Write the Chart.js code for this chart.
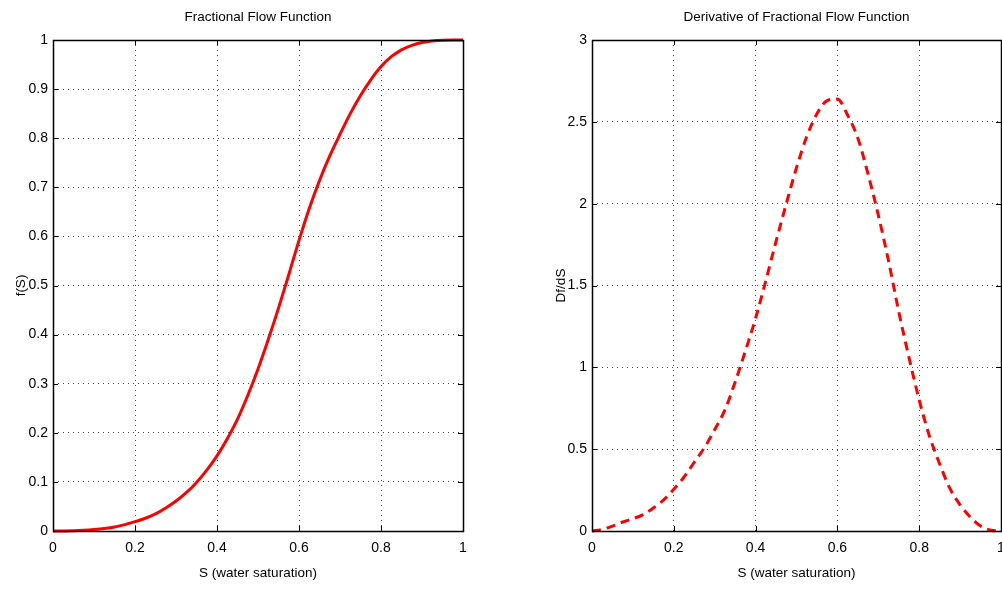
<!DOCTYPE html>
<html>
<head>
<meta charset="utf-8">
<script src="https://cdn.jsdelivr.net/npm/chart.js@4/dist/chart.umd.min.js"></script>
<style>
  html, body { margin: 0; padding: 0; background: #fff; width: 1002px; height: 589px; overflow: hidden; position: relative; }
  canvas { position: absolute; top: 0; }
  #c1 { left: 0px; }
  #c2 { left: 540px; }
</style>
</head>
<body>
<canvas id="c1" width="516" height="589"></canvas>
<canvas id="c2" width="513" height="589"></canvas>
<script>
// ---- data ----
const saturation = [0, 0.025, 0.05, 0.075, 0.1, 0.125, 0.15, 0.175, 0.2, 0.225, 0.25, 0.275, 0.3, 0.325, 0.35, 0.375, 0.4, 0.425, 0.45, 0.475, 0.5, 0.525, 0.55, 0.575, 0.6, 0.625, 0.65, 0.675, 0.7, 0.725, 0.75, 0.775, 0.8, 0.825, 0.85, 0.875, 0.9, 0.925, 0.95, 0.975, 1];
const fractionalFlow = [0, 0.0001, 0.0005, 0.0015, 0.003, 0.005, 0.008, 0.013, 0.019, 0.026, 0.035, 0.047, 0.061, 0.078, 0.099, 0.124, 0.153, 0.188, 0.228, 0.276, 0.33, 0.39, 0.454, 0.522, 0.592, 0.657, 0.714, 0.764, 0.808, 0.85, 0.887, 0.919, 0.946, 0.966, 0.98, 0.989, 0.995, 0.998, 0.9995, 1.0, 1.0];
const derivative = [0, 0.01, 0.03, 0.055, 0.075, 0.10, 0.14, 0.19, 0.255, 0.33, 0.42, 0.51, 0.62, 0.74, 0.91, 1.10, 1.30, 1.53, 1.77, 2.0, 2.22, 2.41, 2.55, 2.63, 2.64, 2.54, 2.40, 2.18, 1.93, 1.65, 1.34, 1.06, 0.80, 0.58, 0.41, 0.26, 0.16, 0.085, 0.03, 0.005, 0];
const xTickValues = [0, 0.2, 0.4, 0.6, 0.8, 1];
const xTickLabels = ['0', '0.2', '0.4', '0.6', '0.8', '1'];
const leftYTickValues = [0, 0.1, 0.2, 0.3, 0.4, 0.5, 0.6, 0.7, 0.8, 0.9, 1];
const leftYTickLabels = ['0', '0.1', '0.2', '0.3', '0.4', '0.5', '0.6', '0.7', '0.8', '0.9', '1'];
const rightYTickValues = [0, 0.5, 1, 1.5, 2, 2.5, 3];
const rightYTickLabels = ['0', '0.5', '1', '1.5', '2', '2.5', '3'];
const titles = ['Fractional Flow Function', 'Derivative of Fractional Flow Function'];
const xAxisTitle = 'S (water saturation)';
const yAxisTitles = ['f(S)', 'Df/dS'];

// ---- styling ----
const FONT = "'Liberation Sans', Arial, Helvetica, sans-serif";

const boxPlugin = {
  id: 'matlabBox',
  afterDraw(chart) {
    const {ctx, chartArea: a, scales} = chart;
    ctx.save();
    ctx.strokeStyle = '#000';
    ctx.lineWidth = 1;
    ctx.beginPath();
    scales.x.ticks.forEach(t => {
      const px = Math.round(scales.x.getPixelForValue(t.value)) + 0.5;
      ctx.moveTo(px, a.bottom); ctx.lineTo(px, a.bottom - 5);
      ctx.moveTo(px, a.top); ctx.lineTo(px, a.top + 5);
    });
    scales.y.ticks.forEach(t => {
      const py = Math.round(scales.y.getPixelForValue(t.value)) + 0.5;
      ctx.moveTo(a.left, py); ctx.lineTo(a.left + 5, py);
      ctx.moveTo(a.right, py); ctx.lineTo(a.right - 5, py);
    });
    ctx.stroke();
    ctx.lineWidth = 1.5;
    ctx.strokeRect(Math.round(a.left) + 0.5, Math.round(a.top) + 0.5, Math.round(a.right - a.left), Math.round(a.bottom - a.top));
    ctx.restore();
  }
};

function makeChart(id, values, yTickValues, yTickLabels, yMax, title, yTitle, dash, padRight, yWidth) {
  const pts = saturation.map((s, i) => ({x: s, y: values[i]}));
  return new Chart(document.getElementById(id), {
    type: 'line',
    data: {
      datasets: [{
        data: pts,
        borderColor: '#ff0000',
        borderWidth: 3,
        borderDash: dash,
        pointRadius: 0,
        cubicInterpolationMode: 'monotone',
        fill: false,
        clip: false
      }]
    },
    options: {
      responsive: false,
      animation: false,
      devicePixelRatio: 1,
      layout: { padding: { left: 0, right: padRight, top: 0, bottom: 0 } },
      plugins: {
        legend: { display: false },
        tooltip: { enabled: false },
        title: {
          display: true,
          fullSize: false,
          text: title,
          color: '#000',
          font: { family: FONT, size: 13.5, weight: 'normal', lineHeight: 1.2 },
          padding: { top: 9.5, bottom: 14.3 }
        }
      },
      scales: {
        x: {
          type: 'linear',
          min: 0, max: 1,
          afterFit(s) { s.height = 58; },
          afterBuildTicks(s) { s.ticks = xTickValues.map(v => ({value: v})); },
          ticks: {
            color: '#000',
            font: { family: FONT, size: 14 },
            padding: 9,
            maxRotation: 0,
            autoSkip: false,
            callback: (v) => { const i = xTickValues.indexOf(v); return i >= 0 ? xTickLabels[i] : ''; }
          },
          grid: {
            drawTicks: false,
            color: (c) => (c.tick && (c.tick.value === 0 || c.tick.value === 1)) ? 'rgba(0,0,0,0)' : '#444',
            lineWidth: 1,
          },
          border: { display: false, dash: [1, 4] },
          title: {
            display: true,
            text: xAxisTitle,
            color: '#000',
            font: { family: FONT, size: 13.5, lineHeight: 1.2 },
            padding: { top: 0, bottom: 8 }
          }
        },
        y: {
          type: 'linear',
          min: 0, max: yMax,
          afterFit(s) { s.width = yWidth; },
          afterBuildTicks(s) { s.ticks = yTickValues.map(v => ({value: v})); },
          ticks: {
            color: '#000',
            font: { family: FONT, size: 14 },
            padding: 5,
            autoSkip: false,
            callback: (v) => { const i = yTickValues.indexOf(v); return i >= 0 ? yTickLabels[i] : ''; }
          },
          grid: {
            drawTicks: false,
            color: (c) => (c.tick && (c.tick.value === 0 || c.tick.value === yMax)) ? 'rgba(0,0,0,0)' : '#444',
            lineWidth: 1,
          },
          border: { display: false, dash: [1, 4] },
          title: {
            display: true,
            text: yTitle,
            color: '#000',
            font: { family: FONT, size: 13.5, lineHeight: 1.2 },
            padding: { top: 13, bottom: 0 }
          }
        }
      }
    },
    plugins: [boxPlugin]
  });
}

const c1 = makeChart('c1', fractionalFlow, leftYTickValues, leftYTickLabels, 1, titles[0], yAxisTitles[0], [], 53, 53);
const c2 = makeChart('c2', derivative, rightYTickValues, rightYTickLabels, 3, titles[1], yAxisTitles[1], [9, 6], 52, 52);
</script>
</body>
</html>
